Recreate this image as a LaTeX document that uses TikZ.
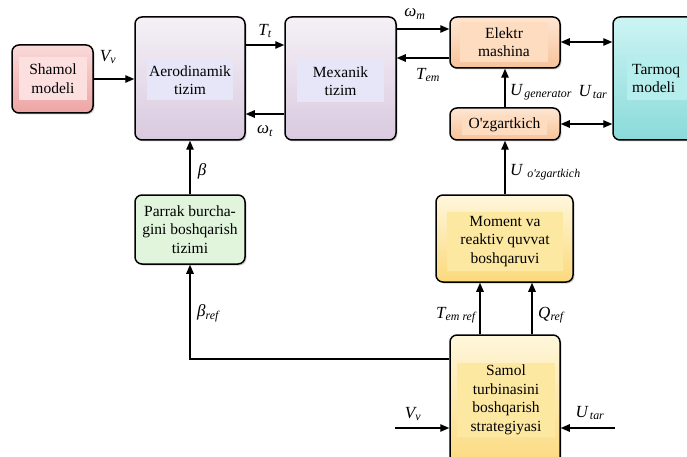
\documentclass[tikz,border=0pt]{standalone}
\usepackage{fontspec}
\setmainfont{Liberation Serif}
\usetikzlibrary{arrows.meta,shadows}

\definecolor{pinkT}{HTML}{FADADA}
\definecolor{pinkB}{HTML}{EEA4A4}
\definecolor{pinkI}{HTML}{FCE0E0}
\definecolor{lavT}{HTML}{F5F1F7}
\definecolor{lavB}{HTML}{D9C9DF}
\definecolor{lavI}{HTML}{E7E6F8}
\definecolor{peachT}{HTML}{FEE6D2}
\definecolor{peachB}{HTML}{F8C39A}
\definecolor{peachI}{HTML}{FDDCC0}
\definecolor{cyanT}{HTML}{CDF4F4}
\definecolor{cyanB}{HTML}{8ADADA}
\definecolor{cyanI}{HTML}{B6EDED}
\definecolor{greenF}{HTML}{E0F5DC}
\definecolor{yelT}{HTML}{FFF7DC}
\definecolor{yelB}{HTML}{FBD97C}
\definecolor{yelI}{HTML}{FDE8A2}

\tikzset{
  blok/.style={draw=black, line width=1.5pt, rounded corners=7pt, inner sep=0pt,
    drop shadow={shadow xshift=1.5pt, shadow yshift=-1.5pt, opacity=0.35}},
  ichki/.style={inner sep=0pt, align=center, font=\fontsize{15.5}{18.5}\selectfont},
  arr/.style={line width=1.2pt, -{Triangle[length=9pt,width=7.5pt]}},
  arr2/.style={line width=1.2pt, {Triangle[length=9pt,width=7.5pt]}-{Triangle[length=9pt,width=7.5pt]}},
  sig/.style={font=\fontsize{17}{19}\selectfont\itshape, inner sep=0pt}
}

\begin{document}
\begin{tikzpicture}[x=1pt,y=-1pt]
    \clip (0,0) rectangle (687,457);

    \node[blok, top color=pinkT, bottom color=pinkB, minimum width=81pt, minimum height=68pt] (shamol) at (52.5,79) {};
    \node[ichki, fill=pinkI, minimum width=68pt, minimum height=43pt] (shamol-t) at (53,78.5) {Shamol\\modeli};
    \node[blok, top color=lavT, bottom color=lavB, minimum width=110pt, minimum height=123pt] (aero) at (190,78.5) {};
    \node[ichki, fill=lavI, minimum width=86pt, minimum height=40pt] (aero-t) at (190,80) {Aerodinamik\\tizim};
    \node[blok, top color=lavT, bottom color=lavB, minimum width=111pt, minimum height=123pt] (mex) at (340.5,78.5) {};
    \node[ichki, fill=lavI, minimum width=87pt, minimum height=42pt] (mex-t) at (340.5,81) {Mexanik\\tizim};
    \node[blok, top color=peachT, bottom color=peachB, minimum width=110pt, minimum height=51pt] (elek) at (505,42.5) {};
    \node[ichki, fill=peachI, minimum width=88pt, minimum height=40pt] (elek-t) at (504,42) {Elektr\\mashina};
    \node[blok, top color=peachT, bottom color=peachB, minimum width=110pt, minimum height=32pt] (ozg) at (505,124) {};
    \node[ichki, fill=peachI, minimum width=85pt, minimum height=20pt] (ozg-t) at (504.5,125) {O\textquotesingle zgartkich};
    \node[blok, top color=cyanT, bottom color=cyanB, minimum width=127pt, minimum height=123pt] (tar) at (676.5,78.5) {};
    \node[ichki, fill=cyanI, anchor=west, text width=70pt, inner xsep=5pt, minimum height=43pt, align=left] (tar-t) at (627,78.5) {Tarmoq\\modeli};
    \node[blok, fill=greenF, minimum width=110pt, minimum height=69pt, ichki] (parrak) at (190,229.5) {Parrak burcha-\\gini boshqarish\\tizimi};
    \node[blok, top color=yelT, bottom color=yelB, minimum width=137pt, minimum height=87pt] (moment) at (504.5,238.5) {};
    \node[ichki, fill=yelI, minimum width=116pt, minimum height=59pt] (moment-t) at (505,241.5) {Moment va\\reaktiv quvvat\\boshqaruvi};
    \node[blok, top color=yelT, bottom color=yelB, minimum width=110pt, minimum height=135pt] (samol) at (505,402.5) {};
    \node[ichki, fill=yelI, minimum width=98pt, minimum height=74pt] (samol-t) at (506,400) {Samol\\turbinasini\\boshqarish\\strategiyasi};

    \coordinate (vin) at (395,428);
    \coordinate (uin) at (615,428);

    \draw[arr] (shamol.east) -- (shamol.east -| aero.west);
    \draw[arr] (aero.east |- 0,45) -- (mex.west |- 0,45);
    \draw[arr] (mex.west |- 0,114) -- (aero.east |- 0,114);
    \draw[arr] (mex.east |- 0,29) -- (elek.west |- 0,29);
    \draw[arr] (elek.west |- 0,58) -- (mex.east |- 0,58);
    \draw[arr2] (elek.east |- 0,42) -- (tar.west |- 0,42);
    \draw[arr2] (ozg.east) -- (ozg.east -| tar.west);
    \draw[arr] (ozg.north) -- (elek.south);
    \draw[arr] (moment.north -| ozg.south) -- (ozg.south);
    \draw[arr] (parrak.north) -- (aero.south);
    \draw[arr] (samol.west |- 0,359) -| (parrak.south);
    \draw[arr] (samol.north -| 480,0) -- (moment.south -| 480,0);
    \draw[arr] (samol.north -| 532,0) -- (moment.south -| 532,0);
    \draw[arr] (vin) -- (samol.west |- vin);
    \draw[arr] (uin) -- (samol.east |- uin);

    \node[sig] (l-vv) at (108,57) {V\textsubscript{v}};
    \node[sig] (l-tt) at (265,31) {T\textsubscript{t}};
    \node[sig] (l-wt) at (265,131) {ω\textsubscript{t}};
    \node[sig] (l-wm) at (415,14) {ω\textsubscript{m}};
    \node[sig] (l-tem) at (428,75) {T\textsubscript{em}};
    \node[sig, anchor=west] (l-ugen) at (510,92) {U\textsubscript{\,generator}};
    \node[sig] (l-utar) at (593,92) {U\textsubscript{\,tar}};
    \node[sig, anchor=west] (l-uozg) at (510,172) {U\textsubscript{\ \,o\textquotesingle zgartkich}};
    \node[sig] (l-b) at (202,171) {β};
    \node[sig] (l-bref) at (208,313) {β\textsubscript{ref}};
    \node[sig] (l-temref) at (456,315) {T\textsubscript{em ref}};
    \node[sig] (l-qref) at (551,315) {Q\textsubscript{ref}};
    \node[sig] (l-vin) at (413,414) {V\textsubscript{v}};
    \node[sig] (l-uin) at (590,413) {U\textsubscript{\,tar}};
\end{tikzpicture}
\end{document}
